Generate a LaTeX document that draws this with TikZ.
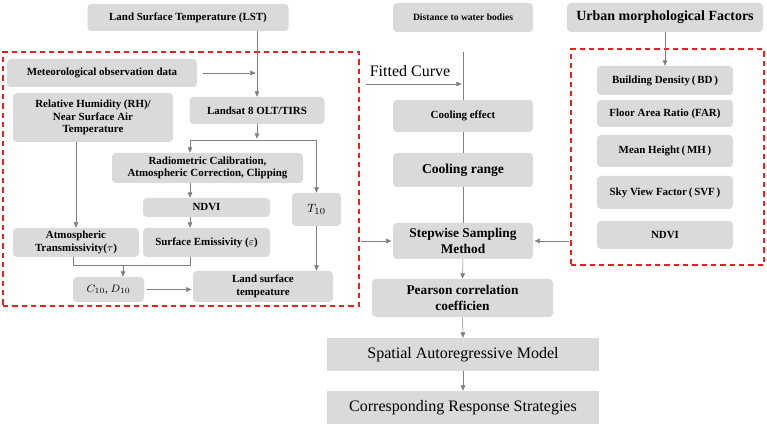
\documentclass[tikz,border=0pt]{standalone}
\usepackage{amsmath}
\usepackage{fontspec}
\setmainfont{Liberation Serif}
\usepackage{tikz}
\usetikzlibrary{arrows.meta}

\definecolor{boxgray}{HTML}{DADADA}
\definecolor{arrgray}{HTML}{7F7F7F}
\definecolor{dashred}{HTML}{E8201E}

\tikzset{
  box/.style={fill=boxgray, draw=none, rounded corners=3pt, align=center,
    inner sep=1pt, font=\fontsize{8.2}{9.6}\selectfont\bfseries},
  sqbox/.style={fill=boxgray, draw=none, align=center, inner sep=1pt,
    font=\fontsize{12}{13}\selectfont},
  big/.style={font=\fontsize{10}{11.5}\selectfont\bfseries},
  wh/.style 2 args={minimum width=#1*0.75pt, minimum height=#2*0.75pt},
  arr/.style={draw=arrgray, thin, -{Triangle[length=4pt,width=3.5pt]}},
  ln/.style={draw=arrgray, thin},
  redbox/.style={draw=dashred, thick, dash pattern=on 4pt off 3pt, inner sep=0pt}
}

\begin{document}
\begin{tikzpicture}[x=0.75pt,y=-0.75pt]
				\useasboundingbox (0,0) rectangle (767,427);
				% dashed frames
				\node[redbox, wh={356}{254}] (lred) at (181,179) {};
				\node[redbox, wh={193}{216}] (rred) at (667.5,157) {};
				% left column: LST retrieval
				\node[box, wh={201}{27}] (lst) at (188,17.5) {Land Surface Temperature (LST)};
				\node[box, wh={190}{28}] (met) at (102,73) {Meteorological observation data};
				\node[box, wh={160}{49}] (rh) at (93,117.5) {Relative Humidity (RH)/\\Near Surface Air\\Temperature};
				\node[box, wh={135}{27}] (landsat) at (257,110.5) {Landsat 8 OLT/TIRS};
				\node[box, wh={191}{30}, font=\fontsize{8.2}{9}\selectfont\bfseries] (radio) at (207.5,168) {Radiometric Calibration,\\Atmospheric Correction, Clipping};
				\node[box, wh={127}{19}] (ndvi) at (206.5,207.5) {NDVI};
				\node[box, wh={49}{33}, font=\fontsize{9.5}{10}\selectfont] (tten) at (316.5,209.5) {$T_{10}$};
				\node[box, wh={127}{29}] (emis) at (206.5,242.5) {Surface Emissivity ($\varepsilon$)};
				\node[box, wh={126}{29}] (atmo) at (76,242.5) {Atmospheric\\Transmissivity($\tau$)};
				\node[box, wh={71}{25}, font=\fontsize{8.5}{10}\selectfont] (cd) at (108.5,289.5) {$C_{10}$, $D_{10}$};
				\node[box, wh={140}{31}] (lstout) at (263,286.5) {Land surface\\tempeature};
				% middle column
				\node[box, wh={140}{29}, font=\fontsize{7.2}{8}\selectfont\bfseries] (dist) at (463,17.5) {Distance to water bodies};
				\node[font=\fontsize{12}{13}\selectfont] (fitted) at (410,71) {Fitted Curve};
				\node[box, wh={140}{32}, font=\fontsize{8.2}{9}\selectfont\bfseries] (cool) at (463,116) {Cooling effect};
				\node[box, wh={140}{34}, font=\fontsize{10.2}{11}\selectfont\bfseries] (range) at (463,170) {Cooling range};
				\node[box, big, wh={140}{36}] (stepw) at (463,241) {Stepwise Sampling\\Method};
				\node[box, big, wh={181}{38}] (pear) at (462.5,298) {Pearson correlation\\coefficien};
				\node[sqbox, wh={272}{33}] (sar) at (463,354.5) {Spatial Autoregressive Model};
				\node[sqbox, wh={272}{33}] (crs) at (463,407.5) {Corresponding Response Strategies};
				% right column
				\node[box, wh={196}{29}, font=\fontsize{10.5}{11}\selectfont\bfseries] (urban) at (665,17.5) {Urban morphological Factors};
				\node[box, wh={136}{29}] (bd) at (665,80.5) {Building Density\,(\,BD\,)};
				\node[box, wh={136}{27}] (far) at (665,113.5) {Floor Area Ratio (FAR)};
				\node[box, wh={136}{32}] (mh) at (665,151) {Mean Height\,(\,MH\,)};
				\node[box, wh={136}{33}] (svf) at (665,192.5) {Sky View Factor\,(\,SVF\,)};
				\node[box, wh={136}{28}] (ndvib) at (665,235) {NDVI};
				% helper points
				\coordinate (fl) at (190,140);
				\coordinate (fr) at (316.5,140);
				\coordinate (ml) at (73,265);
				\coordinate (mr) at (190,265);
				\coordinate (mm) at (123,265);
				\coordinate (fa) at (366,84);
				\coordinate (ctop) at (463,52);
				% connectors left
				\draw[arr] (lst.south -| landsat.north) -- (landsat.north);
				\draw[arr] ([xshift=4pt]met.east) -- ([xshift=-1pt]met.east -| landsat.north);
				\draw[arr] (landsat.south) -- ([yshift=1pt]landsat.south |- fl);
				\draw[ln] (fl) -- (fr);
				\draw[arr] (fl) -- (fl |- radio.north);
				\draw[arr] (fr) -- (tten.north);
				\draw[arr] (radio.south -| fl) -- (ndvi.north -| fl);
				\draw[arr] (ndvi.south -| fl) -- (emis.north -| fl);
				\draw[arr] (rh.south -| atmo.north) -- (atmo.north);
				\draw[ln] (atmo.south -| ml) -- (ml) -- (mr) -- (emis.south -| mr);
				\draw[arr] (mm) -- (mm |- cd.north);
				\draw[arr] ([xshift=2pt]cd.east) -- ([xshift=-1pt]cd.east -| lstout.west);
				\draw[arr] (tten.south) -- (tten.south |- lstout.north);
				% connectors middle
				\draw[arr] (fa) -- ([xshift=-1pt]fa -| cool.north);
				\draw[ln] (ctop) -- (cool.north);
				\draw[ln] (cool.south) -- (range.north);
				\draw[ln] (range.south) -- (stepw.north);
				\draw[arr] ([xshift=1pt]lred.east |- stepw.west) -- ([xshift=-1pt]stepw.west);
				\draw[arr] ([xshift=-1pt]rred.west |- stepw.east) -- ([xshift=1pt]stepw.east);
				\draw[arr] (stepw.south) -- (pear.north);
				\draw[arr] (pear.south) -- (sar.north);
				\draw[arr] (sar.south) -- (crs.north);
				% connectors right
				\draw[arr] (urban.south) -- (bd.north);
			\end{tikzpicture}
\end{document}
